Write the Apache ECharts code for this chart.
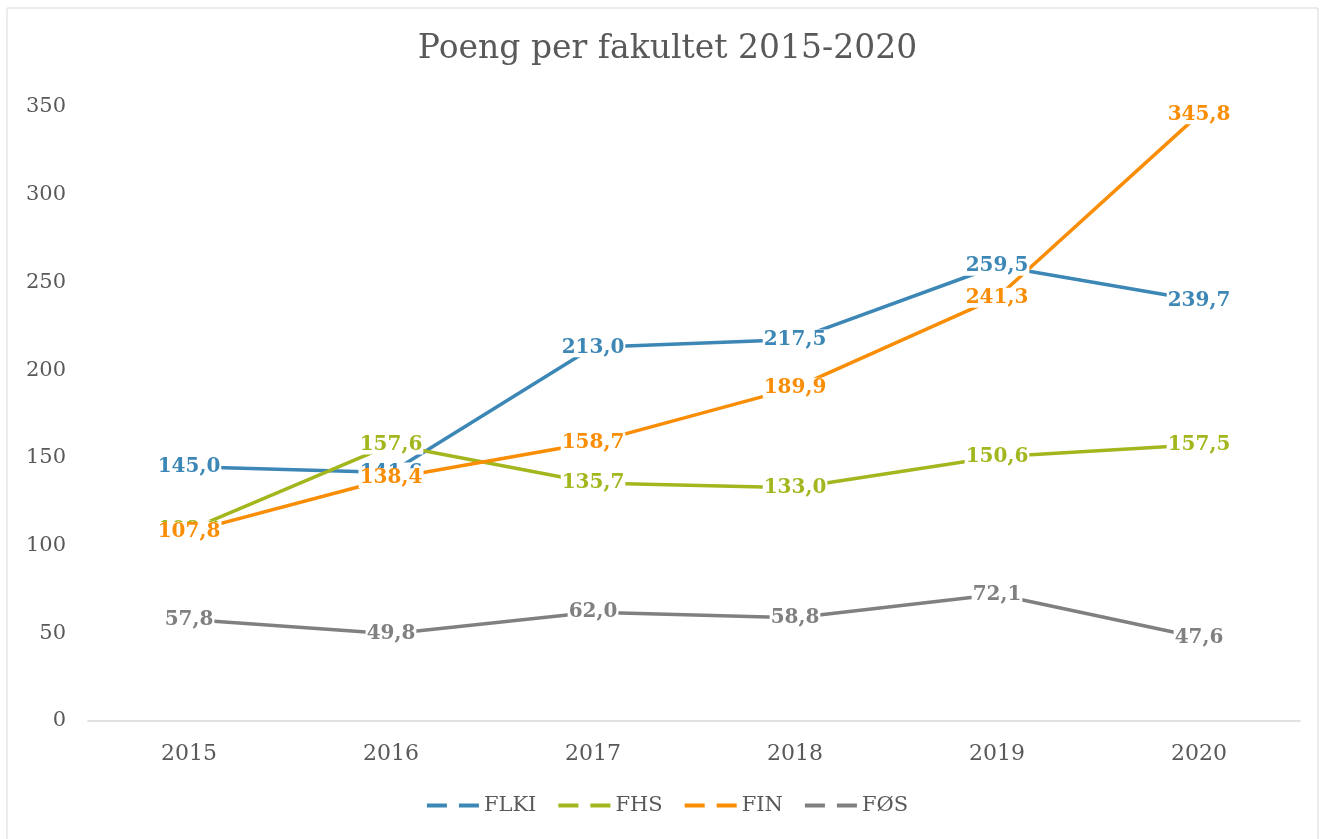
<!DOCTYPE html>
<html>
<head>
<meta charset="utf-8">
<script src="https://cdn.jsdelivr.net/npm/echarts@6/dist/echarts.min.js"></script>
<style>
  html, body { margin: 0; padding: 0; background: #fff; }
  #chart { width: 1335px; height: 839px; }
</style>
</head>
<body>
<div id="chart"></div>
<script>
  // data
  const years = ['2015', '2016', '2017', '2018', '2019', '2020'];
  const flki = [145.0, 141.6, 213.0, 217.5, 259.5, 239.7];
  const fhs = [108.8, 157.6, 135.7, 133.0, 150.6, 157.5];
  const fin = [107.8, 138.4, 158.7, 189.9, 241.3, 345.8];
  const fos = [57.8, 49.8, 62.0, 58.8, 72.1, 47.6];
  const yTicks = [0, 50, 100, 150, 200, 250, 300, 350];

  const serif = "Georgia, 'DejaVu Serif', serif";
  const dashIcon = 'path://M0,0h20v4H0z M32,0h20v4H32z';

  function line(name, data, color) {
    return {
      name: name,
      type: 'line',
      data: data,
      symbol: 'circle',
      symbolSize: 0.1,
      showSymbol: true,
      lineStyle: { color: color, width: 3.5 },
      itemStyle: { color: color },
      label: {
        show: true,
        position: 'inside',
        color: color,
        fontFamily: serif,
        fontWeight: 'bold',
        fontSize: 20,
        backgroundColor: '#fff',
        padding: [0, 1],
        formatter: p => p.value.toFixed(1).replace('.', ',')
      },
      labelLayout: { hideOverlap: false }
    };
  }

  const myChart = echarts.init(document.getElementById('chart'));
  myChart.setOption({
    animation: false,
    textStyle: { fontFamily: serif },
    graphic: [{
      type: 'rect',
      shape: { x: 7, y: 8, width: 1311, height: 840 },
      style: { fill: 'none', stroke: '#d9d9d9', lineWidth: 1 },
      silent: true
    }],
    title: {
      text: 'Poeng per fakultet 2015-2020',
      left: 'center',
      top: 28,
      textStyle: { color: '#595959', fontFamily: serif, fontWeight: 'normal', fontSize: 33 }
    },
    legend: {
      bottom: 18,
      left: 'center',
      itemWidth: 52,
      itemHeight: 4,
      itemGap: 22,
      icon: dashIcon,
      textStyle: { color: '#595959', fontFamily: serif, fontSize: 21 },
      data: ['FLKI', 'FHS', 'FIN', 'FØS']
    },
    grid: { left: 88, right: 35, top: 107, bottom: 118 },
    xAxis: {
      type: 'category',
      data: years,
      axisLine: { lineStyle: { color: '#d9d9d9', width: 1.5 } },
      axisTick: { show: false },
      axisLabel: { color: '#595959', fontSize: 22, margin: 22 }
    },
    yAxis: {
      type: 'value',
      min: yTicks[0],
      max: yTicks[yTicks.length - 1],
      interval: 50,
      splitLine: { show: false },
      axisLine: { show: false },
      axisTick: { show: false },
      axisLabel: { color: '#595959', fontSize: 21, margin: 22 }
    },
    series: [
      line('FLKI', flki, '#3c87b5'),
      line('FHS', fhs, '#a3b61e'),
      line('FIN', fin, '#f98d05'),
      line('FØS', fos, '#808080')
    ]
  });
</script>
</body>
</html>
